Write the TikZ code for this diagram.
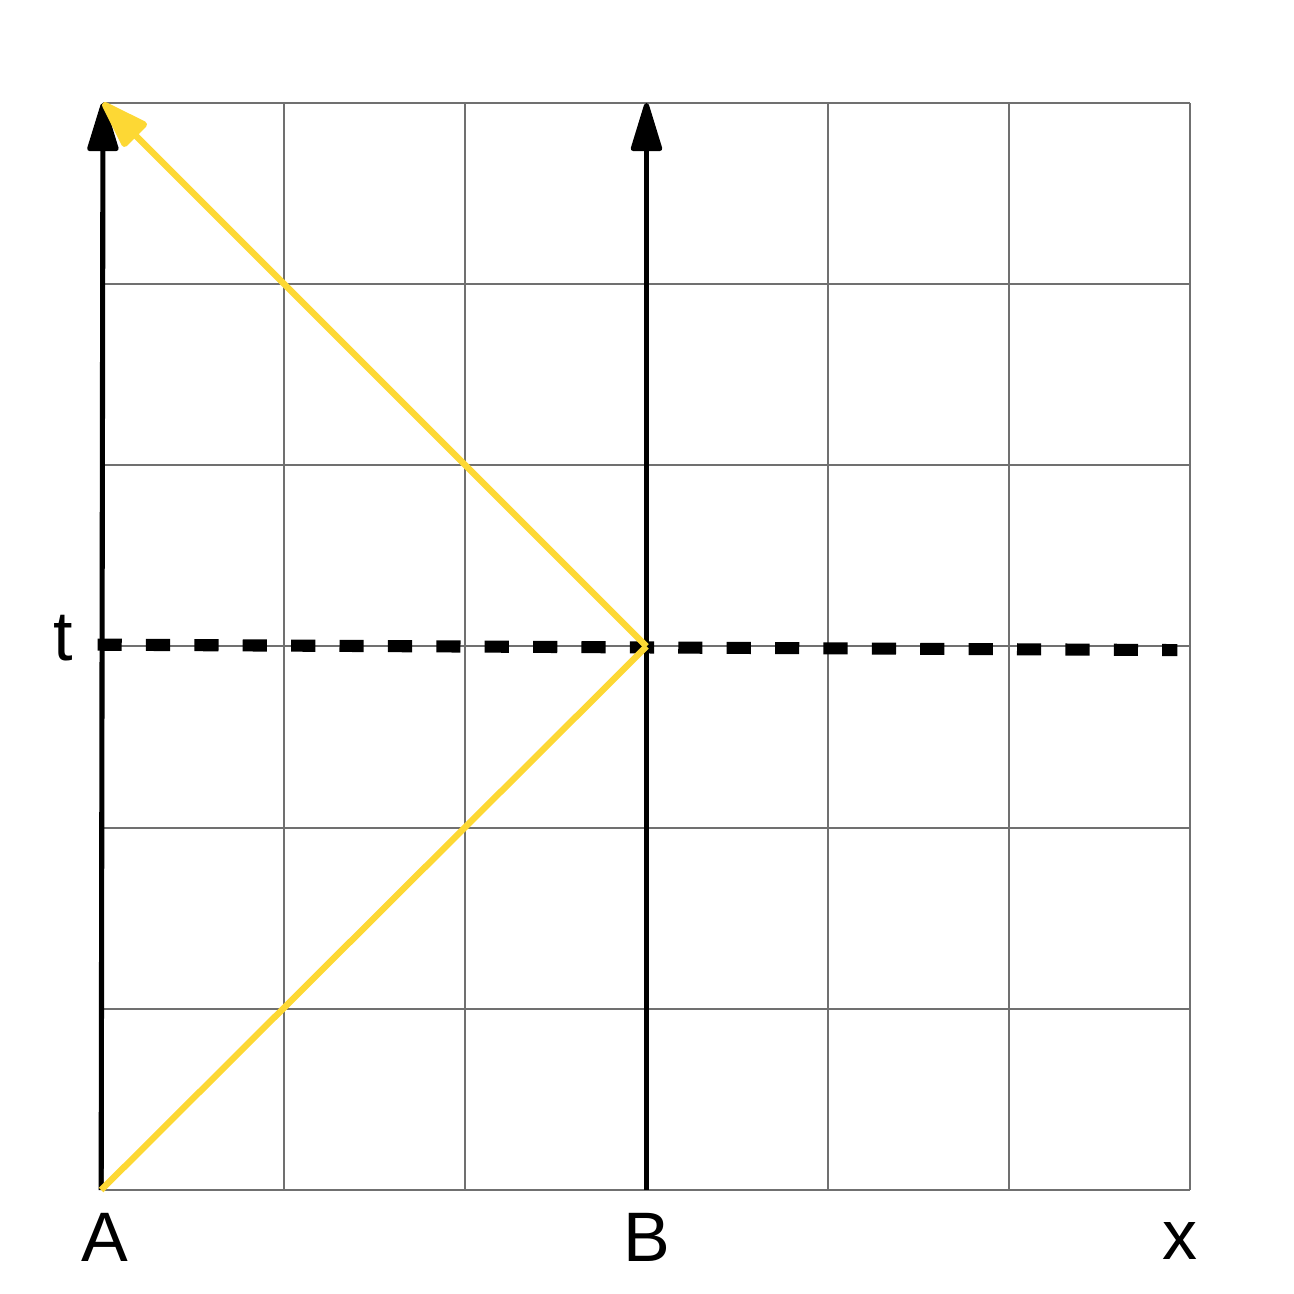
\documentclass[tikz,border=0pt]{standalone}
\usepackage{fontspec}
\setmainfont{Liberation Sans}
\usetikzlibrary{arrows.meta}
\definecolor{raycol}{HTML}{FDD834}
\definecolor{gridcol}{HTML}{707070}
\begin{document}
\begin{tikzpicture}[x=1cm,y=1cm,
  gridline/.style={gridcol,line width=0.32pt},
  worldline/.style={black,line width=0.8pt,-{Triangle[length=8.6pt,width=5pt,round]}},
  lightray/.style={raycol,line width=1pt},
  nowline/.style={black,line width=1.9pt,dash pattern=on 3.8pt off 3.8pt},
  lbl/.style={inner sep=0pt,font=\fontsize{11}{13}\selectfont}]
\useasboundingbox (-0.5684,-0.5740) rectangle (6.5728,6.5684);
\draw [gridline] (0,0) grid (6,6);
\coordinate (A0) at (-0.01,0);
\coordinate (A1) at (0,6);
\coordinate (B0) at (3,0);
\coordinate (B1) at (3,6);
\coordinate (M) at (3,3);
\coordinate (T0) at (-0.03,3.01);
\coordinate (T1) at (5.93,2.98);
\draw [nowline] (T0) -- (T1);
\draw [worldline] (A0) -- (A1);
\draw [worldline] (B0) -- (B1);
\draw [lightray] (A0) -- (M);
\draw [lightray,-{Triangle[length=8.6pt,width=5.4pt,round]}] (M) -- (A1);
%Text
\node [lbl,anchor=base] (labA) at (0.01,-0.397) {A};
\node [lbl,anchor=base] (labB) at (3,-0.397) {B};
\node [lbl,anchor=base] (labx) at (5.944,-0.386) {x};
\node [lbl,anchor=base] (labt) at (-0.222,2.92) {t};
\end{tikzpicture}
\end{document}
